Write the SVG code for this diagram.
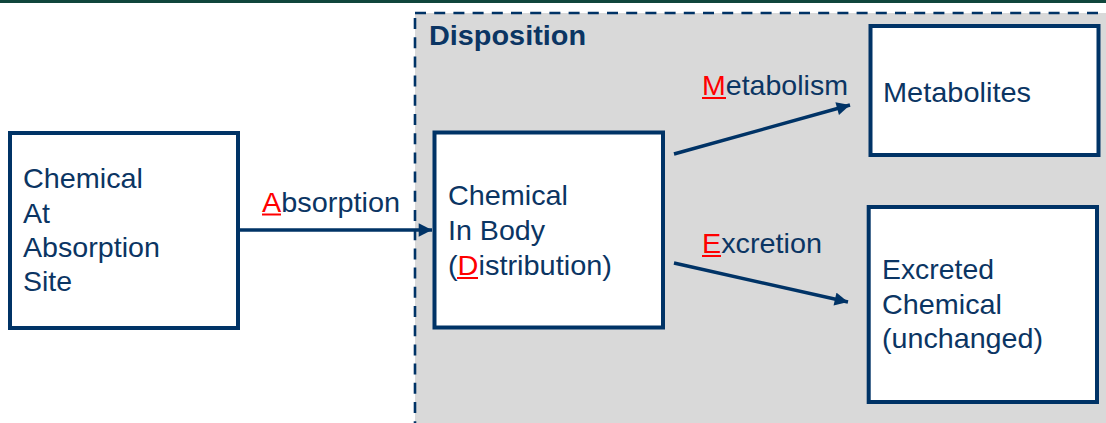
<svg xmlns="http://www.w3.org/2000/svg" width="1106" height="423" viewBox="0 0 1106 423">
  <style>
    .box { fill: #ffffff; stroke: #003366; stroke-width: 4; }
    .txt { font-family: "Liberation Sans", Arial, sans-serif; font-size: 28px; fill: #0b3563; }
    .title { font-family: "Liberation Sans", Arial, sans-serif; font-size: 27px; font-weight: bold; fill: #0b3563; }
    .key { fill: #ff0000; }
    .ul { stroke: #ff0000; stroke-width: 2; }
    .conn { stroke: #003366; stroke-width: 3.5; fill: none; }
  </style>
  <defs>
    <marker id="arrow" viewBox="0 0 10 10" refX="10" refY="5" markerWidth="4.2" markerHeight="3.8" orient="auto" markerUnits="strokeWidth">
      <path d="M0,0 L10,5 L0,10 Z" fill="#003366"/>
    </marker>
  </defs>

  <rect x="0" y="0" width="1106" height="423" fill="#ffffff"/>
  <!-- top rule -->
  <rect x="0" y="0" width="1106" height="3" fill="#10463c"/>

  <!-- disposition region -->
  <g id="disposition">
    <rect x="415" y="13" width="720" height="440" fill="#d9d9d9" stroke="#003366" stroke-width="2.6" stroke-dasharray="11 8.2"/>
    <text class="title" x="429" y="45" textLength="157" lengthAdjust="spacingAndGlyphs">Disposition</text>
  </g>

  <g id="connectors">
    <line class="conn" x1="240" y1="230" x2="432" y2="230" marker-end="url(#arrow)"/>
    <line class="conn" x1="674" y1="154" x2="850" y2="105" marker-end="url(#arrow)"/>
    <line class="conn" x1="674" y1="263" x2="848" y2="302" marker-end="url(#arrow)"/>
  </g>

  <g id="labels">
    <text class="txt" x="262" y="212" textLength="138" lengthAdjust="spacingAndGlyphs"><tspan class="key">A</tspan>bsorption</text>
    <line class="ul" x1="262" y1="214.5" x2="281" y2="214.5"/>
    <text class="txt" x="702" y="95" textLength="146" lengthAdjust="spacingAndGlyphs"><tspan class="key">M</tspan>etabolism</text>
    <line class="ul" x1="702" y1="98" x2="726" y2="98"/>
    <text class="txt" x="702" y="253" textLength="120" lengthAdjust="spacingAndGlyphs"><tspan class="key">E</tspan>xcretion</text>
    <line class="ul" x1="702" y1="256" x2="721" y2="256"/>
  </g>

  <g id="site">
    <rect class="box" x="10" y="133" width="228" height="195"/>
    <text class="txt" x="23" y="188" textLength="120" lengthAdjust="spacingAndGlyphs">Chemical</text>
    <text class="txt" x="23" y="223" textLength="27" lengthAdjust="spacingAndGlyphs">At</text>
    <text class="txt" x="23" y="257" textLength="137" lengthAdjust="spacingAndGlyphs">Absorption</text>
    <text class="txt" x="23" y="291" textLength="49" lengthAdjust="spacingAndGlyphs">Site</text>
  </g>

  <g id="body">
    <rect class="box" x="434.5" y="132.5" width="228.5" height="195"/>
    <text class="txt" x="448" y="205" textLength="120" lengthAdjust="spacingAndGlyphs">Chemical</text>
    <text class="txt" x="448" y="240" textLength="97" lengthAdjust="spacingAndGlyphs">In Body</text>
    <text class="txt" x="448" y="275" textLength="164" lengthAdjust="spacingAndGlyphs">(<tspan class="key">D</tspan>istribution)</text>
    <line class="ul" x1="457" y1="278" x2="478" y2="278"/>
  </g>

  <g id="metabolites">
    <rect class="box" x="870.5" y="26" width="228" height="129"/>
    <text class="txt" x="883" y="102" textLength="148" lengthAdjust="spacingAndGlyphs">Metabolites</text>
  </g>

  <g id="excreted">
    <rect class="box" x="868.7" y="207" width="228.3" height="195"/>
    <text class="txt" x="882" y="279" textLength="112" lengthAdjust="spacingAndGlyphs">Excreted</text>
    <text class="txt" x="882" y="314" textLength="120" lengthAdjust="spacingAndGlyphs">Chemical</text>
    <text class="txt" x="882" y="348" textLength="161" lengthAdjust="spacingAndGlyphs">(unchanged)</text>
  </g>
</svg>
